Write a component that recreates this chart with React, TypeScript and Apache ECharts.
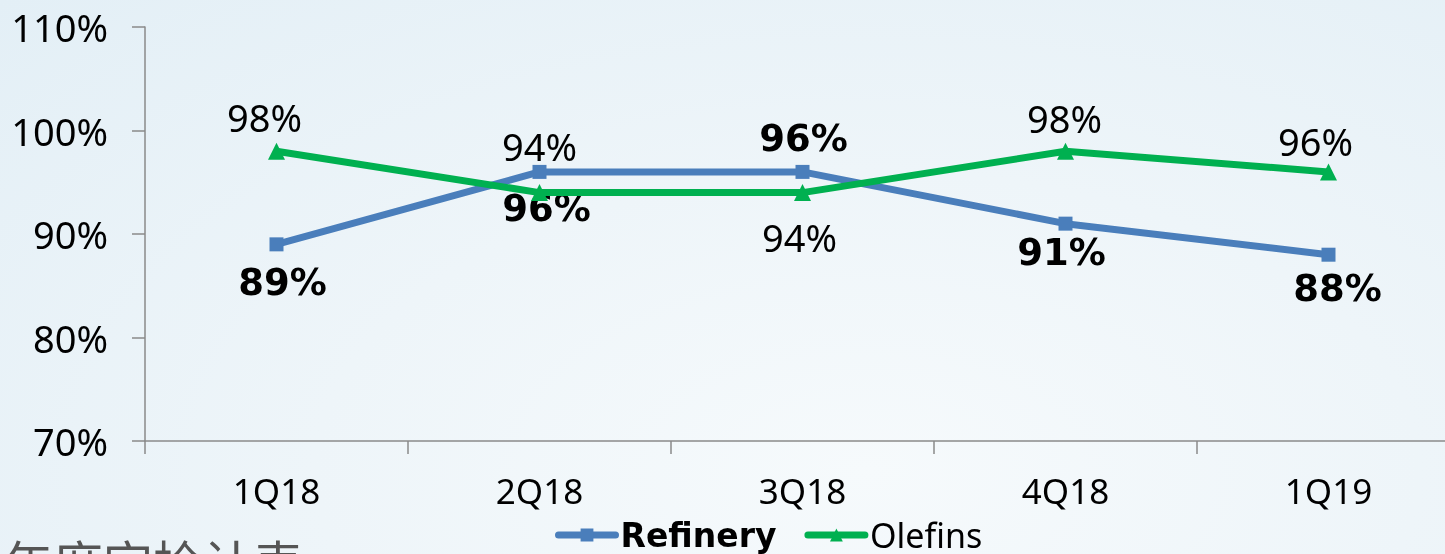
import React, { useEffect, useRef } from "react";
import * as echarts from "echarts";

const categories = ["1Q18", "2Q18", "3Q18", "4Q18", "1Q19"];
const refinery = [89, 96, 96, 91, 88];
const olefins = [98, 94, 94, 98, 96];
const yTicks = { min: 70, max: 110, interval: 10 };

// label placement (styling only)
const refineryLabelOffsets = [[6, 38], [7, 37], [1, -33], [-4, 29], [9, 34]];
const olefinsLabelOffsets = [[-12, -34], [0, -47], [-3, 44], [-1, -33], [-13, -31]];

const BLUE = "#4a7ebb";
const GREEN = "#00b050";
const AXIS = "#8a8a8a";

export default function App() {
  const ref = useRef<HTMLDivElement>(null);
  useEffect(() => {
    if (!ref.current) return;
    const chart = echarts.init(ref.current, null, { renderer: "svg" });
    chart.setOption({
      animation: false,
      backgroundColor: "transparent",
      grid: { left: 145, top: 27, right: 0, bottom: 113, containLabel: false },
      legend: {
        left: 555,
        top: 518,
        padding: 0,
        itemWidth: 57,
        itemHeight: 16,
        itemGap: 28,
        lineStyle: { width: 7, cap: "round" },
        textStyle: { fontFamily: "Noto Sans", fontSize: 34, color: "#000" },
        data: [
          { name: "Refinery", textStyle: { fontFamily: "DejaVu Sans", fontWeight: "bold", fontSize: 33 } },
          { name: "Olefins" },
        ],
      },
      xAxis: {
        type: "category",
        data: categories,
        boundaryGap: true,
        axisLine: { lineStyle: { color: AXIS, width: 1.5 } },
        axisTick: { show: true, length: 13, lineStyle: { color: AXIS, width: 1.5 } },
        axisLabel: { fontFamily: "Noto Sans", fontSize: 35, color: "#000", margin: 32 },
        splitLine: { show: false },
      },
      yAxis: {
        type: "value",
        min: yTicks.min,
        max: yTicks.max,
        interval: yTicks.interval,
        axisLine: { show: true, lineStyle: { color: AXIS, width: 1.5 } },
        axisTick: { show: true, length: 13, lineStyle: { color: AXIS, width: 1.5 } },
        axisLabel: { fontFamily: "Noto Sans", fontSize: 38, color: "#000", margin: 37, formatter: "{value}%" },
        splitLine: { show: false },
      },
      series: [
        {
          name: "Refinery",
          type: "line",
          data: refinery.map((v, i) => ({
            value: v,
            label: { offset: refineryLabelOffsets[i] },
          })),
          symbol: "rect",
          symbolSize: 14,
          itemStyle: { color: BLUE },
          lineStyle: { color: BLUE, width: 7 },
          label: {
            show: true,
            position: "inside",
            formatter: "{c}%",
            fontFamily: "DejaVu Sans",
            fontWeight: "bold",
            fontSize: 37,
            color: "#000",
          },
          z: 2,
        },
        {
          name: "Olefins",
          type: "line",
          data: olefins.map((v, i) => ({
            value: v,
            label: { offset: olefinsLabelOffsets[i] },
          })),
          symbol: "triangle",
          symbolSize: 17,
          itemStyle: { color: GREEN },
          lineStyle: { color: GREEN, width: 7 },
          label: {
            show: true,
            position: "inside",
            formatter: "{c}%",
            fontFamily: "Noto Sans",
            fontSize: 38,
            color: "#000",
          },
          z: 3,
        },
      ],
      graphic: [
        {
          type: "text",
          left: 3,
          top: 536,
          style: {
            text: "年度定检计表",
            fontFamily: "Noto Sans CJK SC",
            fontSize: 50,
            fill: "#555555",
          },
          silent: true,
        },
      ],
    });
    return () => chart.dispose();
  }, []);
  return (
    <div
      style={{
        position: "fixed",
        left: 0,
        top: 0,
        width: 1445,
        height: 554,
        overflow: "hidden",
        background:
          "radial-gradient(ellipse at 60% 85%, #f6fafc 0%, #eef5f9 45%, #e3eff6 100%)",
      }}
    >
      <div ref={ref} style={{ width: 1460, height: 554 }} />
    </div>
  );
}
